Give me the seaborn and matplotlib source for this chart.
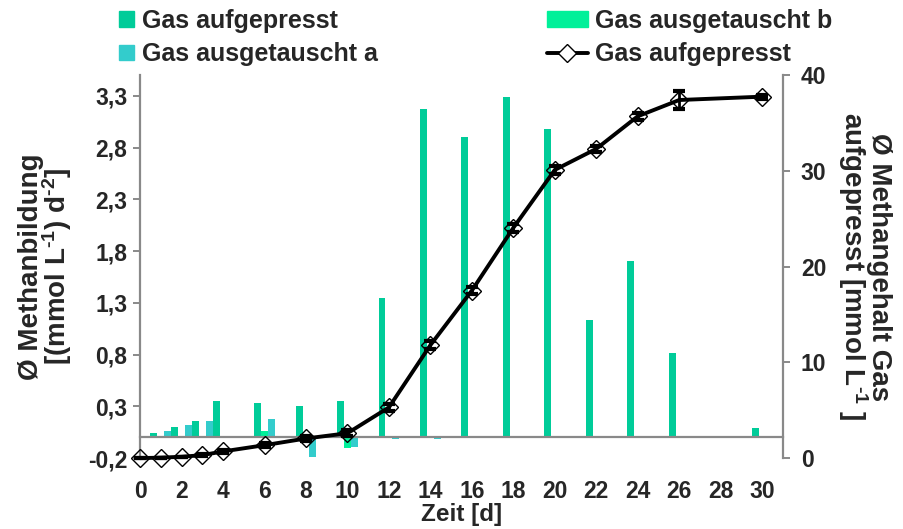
import matplotlib
matplotlib.use("Agg")
import matplotlib.pyplot as plt
from matplotlib.patches import Patch
from matplotlib.lines import Line2D
import seaborn as sns
import pandas as pd

# Daily methane formation per feeding day (left axis)
bar_days = [1, 2, 3, 4, 6, 8, 10, 12, 14, 16, 18, 20, 22, 24, 26, 30]
gas_aufgepresst = [0.045, 0.10, 0.16, 0.35, 0.33, 0.30, 0.35, 1.35, 3.17, 2.90, 3.29, 2.98, 1.13, 1.70, 0.82, 0.09]
gas_ausgetauscht_a = [0.06, 0.12, 0.155, -0.01, 0.175, -0.19, -0.09, -0.02, -0.02, 0, 0, 0, 0, 0, 0, 0]
gas_ausgetauscht_b = [0, 0, 0, 0.01, 0.06, 0, -0.10, 0, 0, 0, 0, 0, 0, 0, 0, 0]

# Cumulative methane content (right axis)
line_days = [0, 1, 2, 3, 4, 6, 8, 10, 12, 14, 16, 18, 20, 22, 24, 26, 30]
methangehalt = [0.0, 0.05, 0.14, 0.31, 0.7, 1.35, 2.05, 2.6, 5.3, 11.8, 17.5, 24.05, 30.1, 32.3, 35.7, 37.4, 37.75]
methangehalt_err = [0.0, 0.0, 0.0, 0.1, 0.15, 0.2, 0.25, 0.3, 0.35, 0.4, 0.4, 0.45, 0.4, 0.3, 0.35, 0.9, 0.2]

left_ticks = [-0.2, 0.3, 0.8, 1.3, 1.8, 2.3, 2.8, 3.3]
right_ticks = [0, 10, 20, 30, 40]

lbl_auf = "Gas aufgepresst"
lbl_a = "Gas ausgetauscht a"
lbl_b = "Gas ausgetauscht b"

col_auf = "#00CC99"
col_a = "#33CCCC"
col_b = "#00F099"
spine_col = "#898989"

sns.set_style("white")
plt.rcParams["font.family"] = ["Liberation Sans", "DejaVu Sans"]
plt.rcParams["font.weight"] = "bold"
plt.rcParams["mathtext.fontset"] = "custom"
plt.rcParams["mathtext.rm"] = "Liberation Sans:bold"
plt.rcParams["mathtext.bf"] = "Liberation Sans:bold"
plt.rcParams["mathtext.default"] = "bf"

FS_TICK = 16.5
FS_LEG = 18
FS_XLAB = 17.5
FS_YLAB = 20

df = pd.DataFrame({
    "Tag": bar_days * 3,
    "Wert": gas_aufgepresst + gas_ausgetauscht_b + gas_ausgetauscht_a,
    "Serie": [lbl_auf] * len(bar_days) + [lbl_b] * len(bar_days) + [lbl_a] * len(bar_days),
})

fig = plt.figure(figsize=(9.04, 5.29), dpi=100)
ax = fig.add_axes([0.155, 0.134, 0.711, 0.724])

sns.barplot(data=df, x="Tag", y="Wert", hue="Serie",
            hue_order=[lbl_auf, lbl_b, lbl_a],
            palette=[col_auf, col_b, col_a], saturation=1,
            native_scale=True, width=1.0, gap=0, linewidth=0,
            errorbar=None, legend=False, ax=ax)

ax2 = ax.twinx()
ax2.set_position(ax.get_position())
sns.lineplot(x=line_days, y=methangehalt, ax=ax2, color="black", linewidth=2.8,
             marker="D", markersize=9.5, markerfacecolor="none", markeredgecolor="black",
             markeredgewidth=1.0, clip_on=False, zorder=4)
ax2.errorbar(line_days, methangehalt, yerr=methangehalt_err, fmt="none", ecolor="black",
             elinewidth=2.0, capsize=4, capthick=3, zorder=3, clip_on=False)

# Left axis
ax.set_xlim(0, 31)
ax.set_ylim(-0.2, 3.5)
ax.set_yticks(left_ticks)
ax.set_yticklabels([f"{v:.1f}".replace(".", ",") for v in left_ticks])
ax.set_xticks(range(0, 31))
ax.set_xticklabels([str(d) if d % 2 == 0 else "" for d in range(0, 31)])
ax.spines["top"].set_visible(False)
ax.spines["right"].set_visible(False)
ax.spines["bottom"].set_position(("data", 0))
for s in ("left", "bottom"):
    ax.spines[s].set_color(spine_col)
    ax.spines[s].set_linewidth(1.6)
ax.tick_params(axis="x", direction="out", length=5, width=1.4, color=spine_col, pad=26,
               labelsize=FS_TICK)
ax.tick_params(axis="y", direction="out", length=5, width=1.4, color=spine_col, pad=4,
               labelsize=FS_TICK)
ax.set_xlabel("Zeit [d]", fontsize=FS_XLAB, fontweight="bold", labelpad=0)
ax.set_ylabel(r"Ø Methanbildung" "\n" r"[(mmol L$^{\text{-1}}$) d$^{\text{-2}}$]",
              fontsize=FS_YLAB, fontweight="bold", linespacing=0.85, labelpad=10)

# Right axis
ax2.set_ylim(0, 40)
ax2.set_yticks(right_ticks)
ax2.set_yticklabels([str(v) for v in right_ticks])
for s in ("top", "left", "bottom"):
    ax2.spines[s].set_visible(False)
ax2.spines["right"].set_color(spine_col)
ax2.spines["right"].set_linewidth(1.6)
ax2.tick_params(axis="y", direction="out", length=5, width=1.4, color=spine_col, pad=8,
                labelsize=FS_TICK)
ax2.set_ylabel(r"Ø Methangehalt Gas" "\n" r"aufgepresst [mmol L$^{\text{-1}}$ ]",
               fontsize=FS_YLAB, fontweight="bold", rotation=270, linespacing=0.85,
               labelpad=47)

leg_kw = dict(loc="upper left", frameon=False, prop={"size": FS_LEG, "weight": "bold"},
              labelspacing=0.38, borderpad=0.1, borderaxespad=0, handletextpad=0.3)
fig.legend(handles=[Patch(color=col_auf), Patch(color=col_a)],
           labels=[lbl_auf, lbl_a], bbox_to_anchor=(0.129, 0.988),
           handlelength=0.6, handleheight=0.6, **leg_kw)
fig.legend(handles=[Patch(color=col_b),
                    Line2D([], [], color="black", linewidth=2.8, marker="D",
                           markersize=9.5, markerfacecolor="white",
                           markeredgecolor="black", markeredgewidth=1.0)],
           labels=[lbl_b, lbl_auf], bbox_to_anchor=(0.602, 0.988),
           handlelength=1.65, handleheight=0.6, **leg_kw)

fig.savefig("out.png", dpi=100)
